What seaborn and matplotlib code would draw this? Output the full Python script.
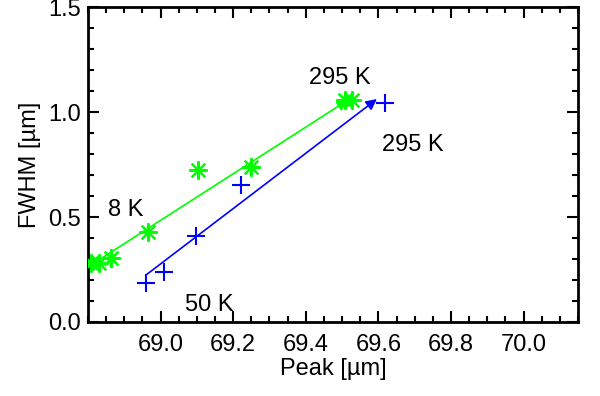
import numpy as np
import pandas as pd
import matplotlib
matplotlib.use("Agg")
import matplotlib.pyplot as plt
from matplotlib.ticker import MultipleLocator
import seaborn as sns

sns.set_theme(style="ticks")
plt.rcParams['font.family'] = ['Liberation Sans', 'DejaVu Sans']
plt.rcParams['text.color'] = 'black'
plt.rcParams['axes.labelcolor'] = 'black'

# green series (asterisks)
green_peak = [68.808, 68.830, 68.863, 68.965, 69.104, 69.250, 69.508, 69.527]
green_fwhm = [0.281, 0.281, 0.305, 0.429, 0.724, 0.738, 1.057, 1.057]
# blue series (plus signs)
blue_peak = [68.960, 69.010, 69.098, 69.222, 69.618]
blue_fwhm = [0.186, 0.238, 0.410, 0.652, 1.043]

# trend arrows (start -> end)
green_arrow_x = [68.808, 69.516]
green_arrow_y = [0.271, 1.057]
blue_arrow_x = [68.960, 69.596]
blue_arrow_y = [0.224, 1.062]

# temperature labels
label_text = ['295 K', '295 K', '8 K', '50 K']
label_x = [69.494, 69.696, 68.905, 69.134]
label_y = [1.162, 0.843, 0.533, 0.081]

green = '#00ff00'
blue = '#0000ff'

df_g = pd.DataFrame({'Peak': green_peak, 'FWHM': green_fwhm})
df_b = pd.DataFrame({'Peak': blue_peak, 'FWHM': blue_fwhm})

fig = plt.figure(figsize=(6, 3.96), dpi=100)
ax = fig.add_axes([0.1467, 0.187, 0.8166, 0.795])

sns.scatterplot(data=df_g, x='Peak', y='FWHM', marker=(8, 2, 0), s=150,
                color=green, edgecolor=green, linewidth=1.6, ax=ax, zorder=3)
sns.scatterplot(data=df_b, x='Peak', y='FWHM', marker='+', s=150,
                color=blue, linewidth=1.5, ax=ax, zorder=3)

for xs, ys, c in [(green_arrow_x, green_arrow_y, green), (blue_arrow_x, blue_arrow_y, blue)]:
    ax.annotate('', xy=(xs[1], ys[1]), xytext=(xs[0], ys[0]),
                arrowprops=dict(arrowstyle='-|>', color=c, lw=1.2,
                                mutation_scale=16, shrinkA=0, shrinkB=0))

for t, x, y in zip(label_text, label_x, label_y):
    ax.text(x, y, t, ha='center', va='center', fontsize=17, color='black')

ax.set_xlim(68.8, 70.15)
ax.set_ylim(0.0, 1.5)
ax.xaxis.set_major_locator(MultipleLocator(0.2))
ax.xaxis.set_minor_locator(MultipleLocator(0.05))
ax.yaxis.set_major_locator(MultipleLocator(0.5))
ax.yaxis.set_minor_locator(MultipleLocator(0.1))
ax.set_xticks([69.0, 69.2, 69.4, 69.6, 69.8, 70.0])
ax.set_xticklabels(['69.0', '69.2', '69.4', '69.6', '69.8', '70.0'])
ax.set_yticks([0.0, 0.5, 1.0, 1.5])
ax.set_yticklabels(['0.0', '0.5', '1.0', '1.5'])

ax.tick_params(which='both', direction='in', top=True, right=True, colors='black', width=1.5)
ax.tick_params(which='major', length=8, labelsize=17)
ax.tick_params(which='minor', length=4)
ax.tick_params(axis='x', which='major', pad=9)
ax.tick_params(axis='y', which='major', pad=5)
for sp in ax.spines.values():
    sp.set_linewidth(2)
    sp.set_color('black')

ax.set_xlabel('Peak [µm]', fontsize=17, labelpad=1)
ax.set_ylabel('FWHM [µm]', fontsize=17, labelpad=5)

plt.savefig('out.png', dpi=100)
